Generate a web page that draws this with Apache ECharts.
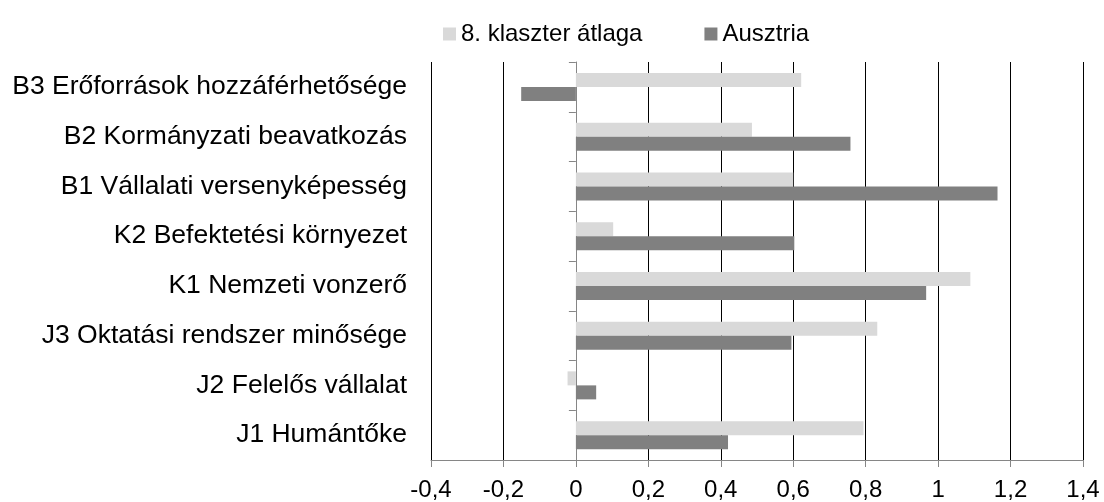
<!DOCTYPE html>
<html>
<head>
<meta charset="utf-8">
<script src="https://cdn.jsdelivr.net/npm/echarts@6/dist/echarts.min.js"></script>
<style>html,body{margin:0;padding:0;background:#fff}#c{width:1104px;height:502px}</style>
</head>
<body>
<div id="c"></div>
<script>
// Categories listed bottom-to-top (ECharts category y axis starts at the bottom)
var categories = ['J1 Humántőke', 'J2 Felelős vállalat', 'J3 Oktatási rendszer minősége', 'K1 Nemzeti vonzerő', 'K2 Befektetési környezet', 'B1 Vállalati versenyképesség', 'B2 Kormányzati beavatkozás', 'B3 Erőforrások hozzáférhetősége'];
var seriesNames = ['8. klaszter átlaga', 'Ausztria'];
var klaszterAtlaga = [0.794, -0.023, 0.832, 1.089, 0.103, 0.600, 0.486, 0.622];
var ausztria = [0.420, 0.056, 0.595, 0.967, 0.603, 1.164, 0.758, -0.151];
var xTickMin = -0.4, xTickMax = 1.4, xTickStep = 0.2;

var font = "'Liberation Sans', Arial, Helvetica, sans-serif";
var chart = echarts.init(document.getElementById('c'), null, {renderer: 'canvas'});
chart.setOption({
  animation: false,
  backgroundColor: '#fff',
  legend: {
    left: 438, top: 17,
    itemWidth: 13, itemHeight: 13, itemGap: 62,
    icon: 'rect',
    data: seriesNames,
    textStyle: {fontFamily: font, fontSize: 24, color: '#000'}
  },
  grid: {left: 431, right: 21, top: 62, bottom: 42, containLabel: false},
  xAxis: {
    type: 'value', min: xTickMin, max: xTickMax, interval: xTickStep,
    axisLine: {show: true, onZero: false, lineStyle: {color: '#868686', width: 1}},
    axisTick: {show: true, length: 7, lineStyle: {color: '#868686'}},
    axisLabel: {fontFamily: font, fontSize: 24, color: '#000', margin: 18,
      formatter: function (v) { return String(Math.round(v * 10) / 10).replace('.', ','); }},
    splitLine: {show: true, lineStyle: {color: '#000', width: 1}}
  },
  yAxis: [{
    type: 'category', data: categories, position: 'left',
    axisLine: {show: false, onZero: false},
    axisTick: {show: false},
    splitLine: {show: false},
    axisLabel: {fontFamily: font, fontSize: 26.5, color: '#000', margin: 24, padding: [3, 0, 0, 0]}
  }, {
    type: 'category', data: categories, position: 'left',
    axisLine: {show: true, onZero: true, lineStyle: {color: '#868686', width: 1}},
    axisTick: {show: true, length: 7, inside: false, lineStyle: {color: '#868686'}},
    axisLabel: {show: false},
    splitLine: {show: false}
  }],
  series: [{
    name: seriesNames[0], type: 'bar', data: klaszterAtlaga, yAxisIndex: 0,
    barWidth: 14, barGap: '0%',
    itemStyle: {color: '#d9d9d9'}
  }, {
    name: seriesNames[1], type: 'bar', data: ausztria, yAxisIndex: 0,
    barWidth: 14, barGap: '0%',
    itemStyle: {color: '#808080'}
  }]
});
</script>
</body>
</html>
